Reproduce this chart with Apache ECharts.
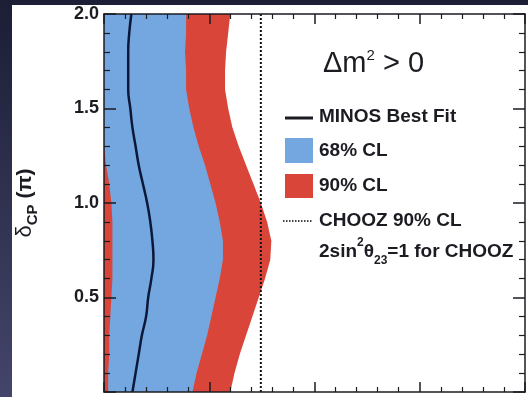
<!DOCTYPE html>
<html>
<head>
<meta charset="utf-8">
<script src="https://cdn.jsdelivr.net/npm/echarts@6/dist/echarts.min.js"></script>
<style>
  html, body { margin: 0; padding: 0; }
  #chart { width: 528px; height: 397px; }
</style>
</head>
<body>
<div id="chart"></div>
<script>
// delta_CP in units of pi
const deltaCP = [0.0, 0.1, 0.2, 0.3, 0.4, 0.5, 0.6, 0.7, 0.8, 0.9, 1.0, 1.1, 1.2, 1.3, 1.4, 1.5, 1.6, 1.7, 1.8, 1.9, 2.0]
// 2sin^2(theta23)sin^2(2theta13) at each delta
const bestFit = [0.027, 0.030, 0.033, 0.036, 0.040, 0.042, 0.045, 0.047, 0.046, 0.044, 0.041, 0.037, 0.033, 0.030, 0.027, 0.025, 0.023, 0.023, 0.023, 0.024, 0.026]
const cl68Left = [0.004, 0.004, 0.005, 0.005, 0.006, 0.007, 0.008, 0.008, 0.008, 0.008, 0.007, 0.005, 0.002, 0, 0, 0, 0, 0, 0, 0, 0]
const cl68Right = [0.084, 0.088, 0.093, 0.098, 0.102, 0.106, 0.110, 0.113, 0.113, 0.110, 0.106, 0.101, 0.096, 0.090, 0.085, 0.081, 0.078, 0.078, 0.077, 0.078, 0.078]
const cl90Right = [0.120, 0.124, 0.129, 0.135, 0.141, 0.147, 0.153, 0.158, 0.159, 0.155, 0.149, 0.142, 0.135, 0.128, 0.122, 0.118, 0.115, 0.115, 0.116, 0.118, 0.120]
const choozLimit = 0.149

const BLUE = '#74a7df'
const RED = '#da4539'
const INK = '#1b1b22'
const FONT = 'Liberation Sans'

const chart = echarts.init( document.getElementById( 'chart' ) )

// band polygon: left edge going up, right edge coming down
const bandSeries = ( name, left, right, color ) => ( {
  name : name,
  type : 'custom',
  clip : true,
  data : deltaCP.map( ( d, i ) => [left[i], right[i], d] ),
  renderItem : ( params, api ) => {
    if ( params.dataIndex !== 0 ) {
      return null
    }
    const pts = []
    deltaCP.forEach( ( d, i ) => pts.push( api.coord( [left[i], d] ) ) )
    for ( let i = deltaCP.length - 1; i >= 0; i-- ) {
      pts.push( api.coord( [right[i], deltaCP[i]] ) )
    }
    return {
      type : 'polygon',
      shape : { points : pts },
      style : { fill : color, stroke : null }
    }
  }
} )

const frameX = ( pos, show ) => ( {
  type : 'value',
  position : pos,
  z : 10,
  min : 0,
  max : 0.4,
  interval : 0.1,
  axisLine : { show : true, onZero : false, lineStyle : { color : INK, width : 1.5 } },
  axisTick : { show : true, inside : true, length : 10, lineStyle : { color : INK, width : 1.5 } },
  minorTick : { show : true, splitNumber : 5, length : 5, lineStyle : { color : INK, width : 1.2 } },
  axisLabel : { show : show },
  splitLine : { show : false }
} )

const frameY = ( pos, show ) => ( {
  type : 'value',
  position : pos,
  z : 10,
  min : 0,
  max : 2,
  interval : 0.5,
  axisLine : { show : true, onZero : false, lineStyle : { color : INK, width : 1.5 } },
  axisTick : { show : true, inside : true, length : 12, lineStyle : { color : INK, width : 1.5 } },
  minorTick : { show : true, splitNumber : 5, length : 6, lineStyle : { color : INK, width : 1.2 } },
  axisLabel : {
    show : show,
    margin : 5,
    // the 0.0 label sits below the cropped edge of the picture
    formatter : v => ( v === 0 ? '' : v.toFixed( 1 ) ),
    fontFamily : FONT,
    fontWeight : 'bold',
    fontSize : 18,
    color : INK
  },
  splitLine : { show : false }
} )

const yMain = frameY( 'left', true )
yMain.name = '{d|δ}{s|CP}{n| (π)}'
yMain.nameLocation = 'middle'
yMain.nameRotate = 90
yMain.nameGap = 64
yMain.nameTextStyle = {
  rich : {
    d : { fontFamily : FONT, fontSize : 22, color : INK },
    s : { fontFamily : FONT, fontSize : 15, fontWeight : 'bold', color : INK, verticalAlign : 'bottom', lineHeight : 30 },
    n : { fontFamily : FONT, fontSize : 21, fontWeight : 'bold', color : INK }
  }
}

const legendText = ( y, text ) => ( {
  type : 'text',
  left : 319,
  top : y - 11,
  z : 10,
  style : { text : text, fontFamily : FONT, fontWeight : 'bold', fontSize : 19, fill : INK }
} )

chart.setOption( {
  animation : false,
  backgroundColor : new echarts.graphic.LinearGradient( 0, 0, 0, 1, [
    { offset : 0, color : '#1b1e35' },
    { offset : 1, color : '#44456a' }
  ] ),
  grid : { left : 104, top : 14, right : 3, bottom : 5 },
  xAxis : [frameX( 'bottom', false ), frameX( 'top', false )],
  yAxis : [yMain, frameY( 'right', false )],
  graphic : [
    {
      type : 'rect',
      z : -10,
      shape : { x : 12, y : 5, width : 516, height : 392 },
      style : { fill : '#ffffff' }
    },
    {
      type : 'text',
      left : 323,
      top : 48,
      z : 10,
      style : {
        text : '{a|Δm}{s|2}{a| > 0}',
        rich : {
          a : { fontFamily : FONT, fontSize : 29, fill : INK, lineHeight : 32 },
          s : { fontFamily : FONT, fontSize : 15, fill : INK, verticalAlign : 'top', lineHeight : 32 }
        }
      }
    },
    {
      type : 'line',
      z : 10,
      shape : { x1 : 285, y1 : 118, x2 : 313, y2 : 118 },
      style : { stroke : INK, lineWidth : 3 }
    },
    legendText( 118, 'MINOS Best Fit' ),
    {
      type : 'rect',
      z : 10,
      shape : { x : 285, y : 138, width : 28, height : 25 },
      style : { fill : BLUE }
    },
    legendText( 152, '68% CL' ),
    {
      type : 'rect',
      z : 10,
      shape : { x : 285, y : 174, width : 28, height : 24 },
      style : { fill : RED }
    },
    legendText( 187, '90% CL' ),
    {
      type : 'line',
      z : 10,
      shape : { x1 : 283, y1 : 221, x2 : 313, y2 : 221 },
      style : { stroke : '#444', lineWidth : 2, lineDash : [1.5, 1.5] }
    },
    legendText( 222, 'CHOOZ 90% CL' ),
    {
      type : 'text',
      left : 319,
      top : 237,
      z : 10,
      style : {
        text : '{n|2sin}{sup|2}{n|θ}{sub|23}{n|=1 for CHOOZ}',
        rich : {
          n : { fontFamily : FONT, fontWeight : 'bold', fontSize : 19, fill : INK, lineHeight : 30 },
          sup : { fontFamily : FONT, fontWeight : 'bold', fontSize : 12, fill : INK, verticalAlign : 'top', lineHeight : 30 },
          sub : { fontFamily : FONT, fontWeight : 'bold', fontSize : 12, fill : INK, verticalAlign : 'bottom', lineHeight : 30 }
        }
      }
    }
  ],
  series : [
    bandSeries( '90% CL', deltaCP.map( () => 0 ), cl90Right, RED ),
    bandSeries( '68% CL', cl68Left, cl68Right, BLUE ),
    {
      name : 'MINOS Best Fit',
      type : 'line',
      smooth : true,
      showSymbol : false,
      z : 5,
      data : deltaCP.map( ( d, i ) => [bestFit[i], d] ),
      lineStyle : { color : '#0c1838', width : 2.5 }
    },
    {
      name : 'CHOOZ 90% CL',
      type : 'line',
      showSymbol : false,
      z : 6,
      data : [[choozLimit, 0], [choozLimit, 2]],
      lineStyle : { color : '#111', width : 2, type : [2, 2] }
    }
  ]
} )
</script>
</body>
</html>
